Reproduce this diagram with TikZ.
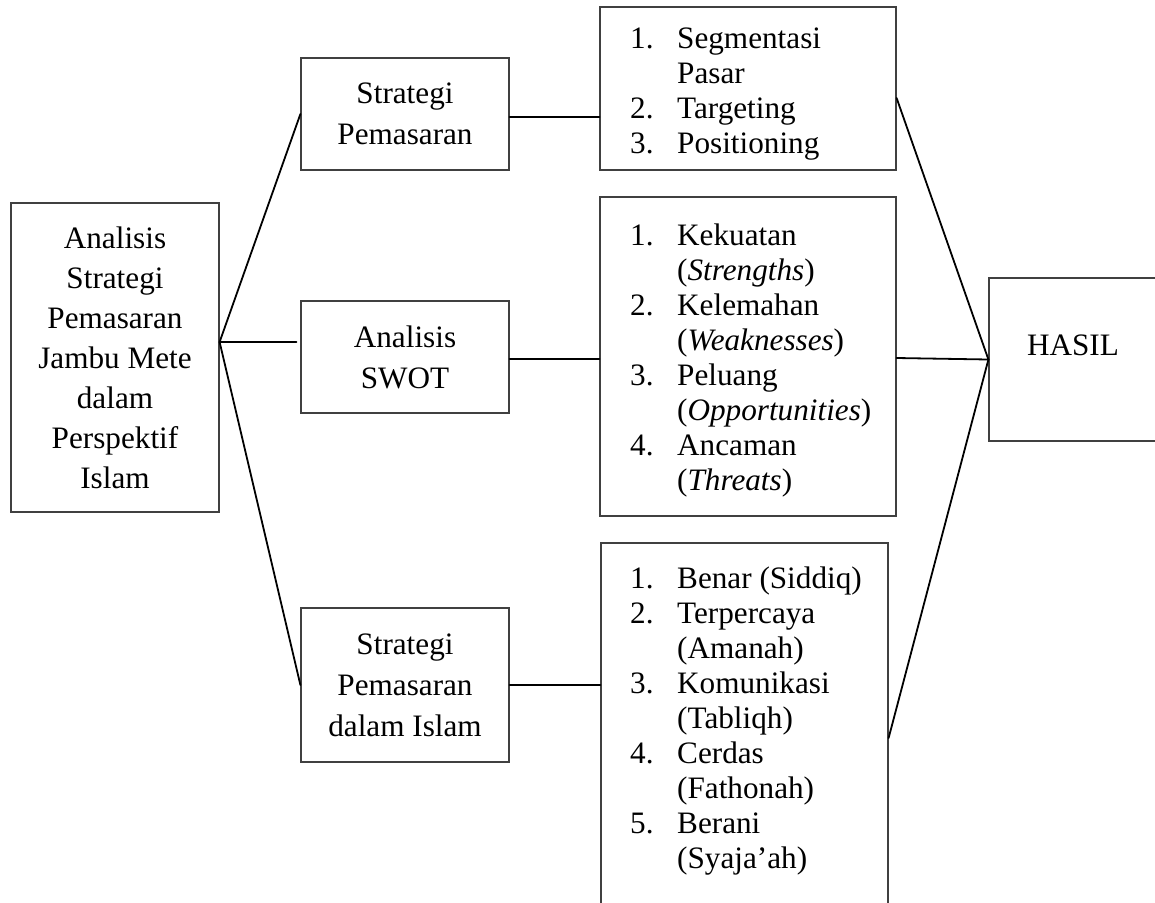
\documentclass[tikz,border=0pt]{standalone}
\usepackage{fontspec}
\setmainfont{Liberation Serif}
\usetikzlibrary{calc}
\tikzset{
	box/.style={draw=black!75, line width=1.2pt, inner sep=0pt, align=center, font=\fontsize{31.2}{41}\selectfont},
	listtxt/.style={inner sep=0pt, anchor=base west, font=\fontsize{31.2}{35}\selectfont},
	link/.style={line width=1.8pt, line cap=round},
}
\newcommand{\numlist}[1]{\begin{tabular}[t]{@{}p{47pt}@{}l@{}}#1\end{tabular}}

\begin{document}
\begin{tikzpicture}[x=1pt, y=-1pt]
			%%%%% START %%%%%
			\useasboundingbox (0,0) rectangle (1155,902);
			
			\node[box, minimum width=208pt, minimum height=309pt, font=\fontsize{31.2}{40}\selectfont] (main) at (115,357.5) {Analisis\\Strategi\\Pemasaran\\Jambu Mete\\dalam\\Perspektif\\Islam};
			
			\node[box, minimum width=208pt, minimum height=112pt] (sp) at (405,114) {Strategi\\Pemasaran};
			\node[box, minimum width=208pt, minimum height=112pt] (swot) at (405,357) {Analisis\\SWOT};
			\node[box, minimum width=208pt, minimum height=154pt] (spi) at (405,685) {Strategi\\Pemasaran\\dalam Islam};
			
			\node[box, minimum width=296pt, minimum height=163pt] (l1) at (748,88.5) {};
			\node[box, minimum width=296pt, minimum height=319pt] (l2) at (748,356.5) {};
			\node[box, minimum width=287pt, minimum height=390pt] (l3) at (744.5,738) {};
			
			\node[box, minimum width=168pt, minimum height=163pt, text depth=29pt] (hasil) at (1073,359.5) {HASIL};
			
			% list texts
			\begin{scope}
				\clip (l1.north west) rectangle ([yshift=10pt]l1.south east);
				\node[listtxt] (t1) at (630,48) {\numlist{1. & Segmentasi\\ & Pasar\\ 2. & Targeting\\ 3. & Positioning}};
			\end{scope}
			\node[listtxt] (t2) at (630,245) {\numlist{1. & Kekuatan\\ & (\textit{Strengths})\\ 2. & Kelemahan\\ & (\textit{Weaknesses})\\ 3. & Peluang\\ & (\textit{Opportunities})\\ 4. & Ancaman\\ & (\textit{Threats})}};
			\node[listtxt] (t3) at (630,588) {\numlist{1. & Benar (Siddiq)\\ 2. & Terpercaya\\ & (Amanah)\\ 3. & Komunikasi\\ & (Tabliqh)\\ 4. & Cerdas\\ & (Fathonah)\\ 5. & Berani\\ & (Syaja'ah)}};
			
			% fan out of the main box
			\coordinate (fanL) at ([yshift=15.5pt]main.east);
			\coordinate (swotin) at ($(swot.west |- fanL)+(-4,0)$);
			\draw[link] (fanL) -- (sp.west);
			\draw[link] (fanL) -- (swotin);
			\draw[link] (fanL) -- (spi.west);
			
			\draw[link] ([yshift=-3pt]sp.east) -- ([yshift=-3pt]sp.east -| l1.west);
			\draw[link] ([yshift=-2pt]swot.east) -- ([yshift=-2pt]swot.east -| l2.west);
			\draw[link] (spi.east) -- (spi.east -| l3.west);
			
			% into HASIL
			\draw[link] ([yshift=-9.5pt]l1.east) -- (hasil.west);
			\draw[link] ([yshift=-1.5pt]l2.east) -- (hasil.west);
			\draw[link] (l3.east) -- (hasil.west);
			
			%%%%% END %%%%%
\end{tikzpicture}
\end{document}
